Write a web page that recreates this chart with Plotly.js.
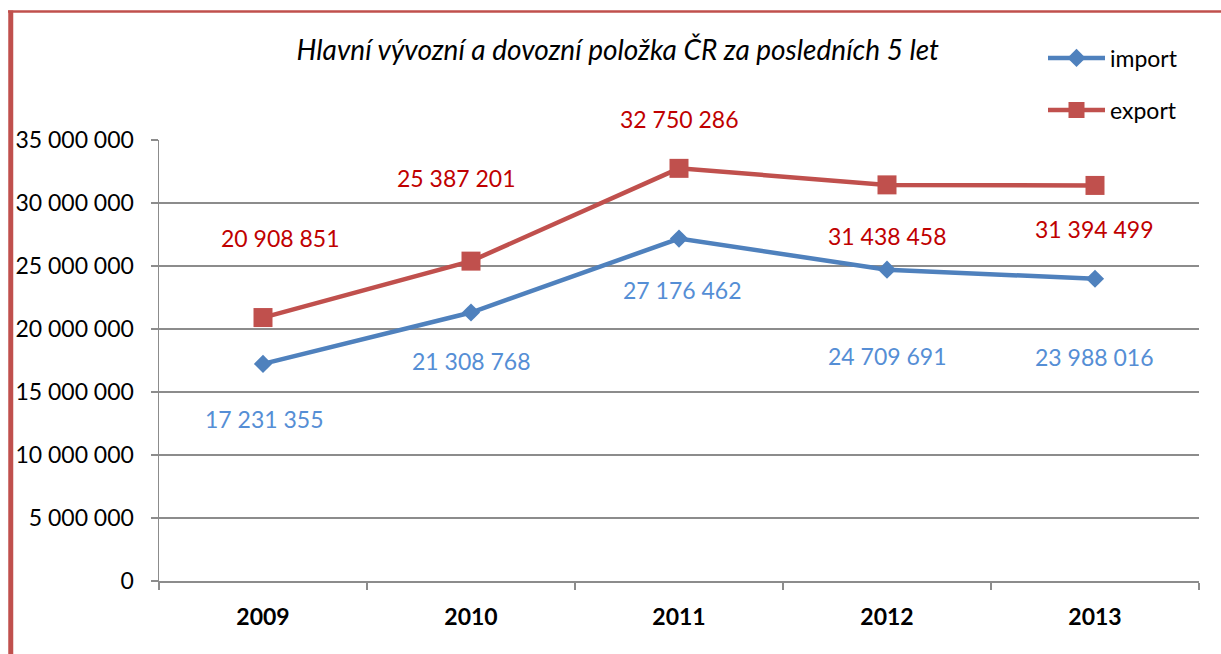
<!DOCTYPE html>
<html>
<head>
<meta charset="utf-8">
<script src="https://cdn.plot.ly/plotly-3.0.1.min.js"></script>
<style>
  html, body { margin: 0; padding: 0; background: #fff; }
  #chart { width: 1221px; height: 654px; }
</style>
</head>
<body>
<div id="chart"></div>
<script>
// ---- data ----
const years = ["2009", "2010", "2011", "2012", "2013"];
const importValues = [17231355, 21308768, 27176462, 24709691, 23988016];
const exportValues = [20908851, 25387201, 32750286, 31438458, 31394499];
const yTickValues = [0, 5000000, 10000000, 15000000, 20000000, 25000000, 30000000, 35000000];
const titleText = "Hlavní vývozní a dovozní položka ČR za posledních 5 let";

// ---- style (label offsets in px, as placed in the original) ----
const importShiftY = [-55, -48, -51, -86, -78];
const importShiftX = [1, 0, 3, 0, -1];
const exportShiftY = [80, 83, 49, -51, -44];
const exportShiftX = [17, -15, 0, 0, -1];

const FONT = "Lato, 'Open Sans', sans-serif";
const FS = 23;
const importColor = "#4F81BD";
const exportColor = "#C0504D";
const importLabelColor = "#558ED5";
const exportLabelColor = "#C00000";
const gridColor = "#8C8C8C";

function fmt(v) {
  return String(v).replace(/\B(?=(\d{3})+(?!\d))/g, " ");
}

const traces = [
  {
    x: years, y: importValues, name: "import", type: "scatter", mode: "lines+markers",
    line: { color: importColor, width: 4.5 },
    marker: { symbol: "diamond", size: 14, color: importColor },
    legend: "legend", hoverinfo: "skip"
  },
  {
    x: years, y: exportValues, name: "export", type: "scatter", mode: "lines+markers",
    line: { color: exportColor, width: 4.5 },
    marker: { symbol: "square", size: 19, color: exportColor },
    legend: "legend2", hoverinfo: "skip"
  }
];

const annotations = [];
years.forEach((yr, i) => {
  annotations.push({
    x: i, y: importValues[i], xref: "x", yref: "y", text: fmt(importValues[i]),
    showarrow: false, yshift: importShiftY[i], xshift: importShiftX[i],
    font: { family: FONT, size: FS, color: importLabelColor }
  });
  annotations.push({
    x: i, y: exportValues[i], xref: "x", yref: "y", text: fmt(exportValues[i]),
    showarrow: false, yshift: exportShiftY[i], xshift: exportShiftX[i],
    font: { family: FONT, size: FS, color: exportLabelColor }
  });
});

const layout = {
  width: 1221, height: 654,
  margin: { l: 159, r: 22, t: 140, b: 73, pad: 0 },
  paper_bgcolor: "#ffffff", plot_bgcolor: "#ffffff",
  separators: ". ",
  font: { family: FONT, size: FS, color: "#000" },
  title: {
    text: "<i>" + titleText + "</i>",
    x: 0.506, xref: "container", xanchor: "center",
    y: 1 - 50 / 654, yref: "container", yanchor: "middle",
    font: { family: FONT, size: 28, color: "#000" }
  },
  xaxis: {
    type: "category", range: [-0.5, 4.5], fixedrange: true,
    showgrid: false, zeroline: false,
    showline: true, linecolor: gridColor, linewidth: 1.5,
    ticks: "outside", tickson: "boundaries", ticklen: 7, tickcolor: gridColor, tickwidth: 1.5,
    tickfont: { family: FONT, size: 23, color: "#000", weight: "bold" },
    ticklabelstandoff: 15
  },
  yaxis: {
    range: [0, 35000000], tickvals: yTickValues, tickformat: ",d", fixedrange: true,
    showgrid: true, gridcolor: gridColor, gridwidth: 1.5,
    zeroline: false,
    showline: true, linecolor: gridColor, linewidth: 1.5,
    ticks: "outside", ticklen: 7, tickcolor: gridColor, tickwidth: 1.5,
    tickfont: { family: FONT, size: FS, color: "#000" },
    ticklabelstandoff: 12
  },
  showlegend: true,
  legend: {
    x: 0.85, y: (581 - 58) / 441, xref: "paper", yref: "paper", xanchor: "left", yanchor: "middle",
    bgcolor: "rgba(0,0,0,0)", itemwidth: 57, font: { family: FONT, size: FS, color: "#000" }
  },
  legend2: {
    x: 0.85, y: (581 - 110) / 441, xref: "paper", yref: "paper", xanchor: "left", yanchor: "middle",
    bgcolor: "rgba(0,0,0,0)", itemwidth: 57, font: { family: FONT, size: FS, color: "#000" }
  },
  annotations: annotations,
  shapes: [
    { type: "line", xref: "paper", yref: "paper",
      x0: (10.75 - 159) / 1040, x1: (10.75 - 159) / 1040,
      y0: (581 - 10.5) / 441, y1: (581 - 660) / 441,
      line: { color: exportColor, width: 5 } },
    { type: "line", xref: "paper", yref: "paper",
      x0: (8 - 159) / 1040, x1: (1230 - 159) / 1040,
      y0: (581 - 11.5) / 441, y1: (581 - 11.5) / 441,
      line: { color: exportColor, width: 2.5 } }
  ]
};

Plotly.newPlot("chart", traces, layout, { displayModeBar: false, staticPlot: true });
</script>
</body>
</html>
